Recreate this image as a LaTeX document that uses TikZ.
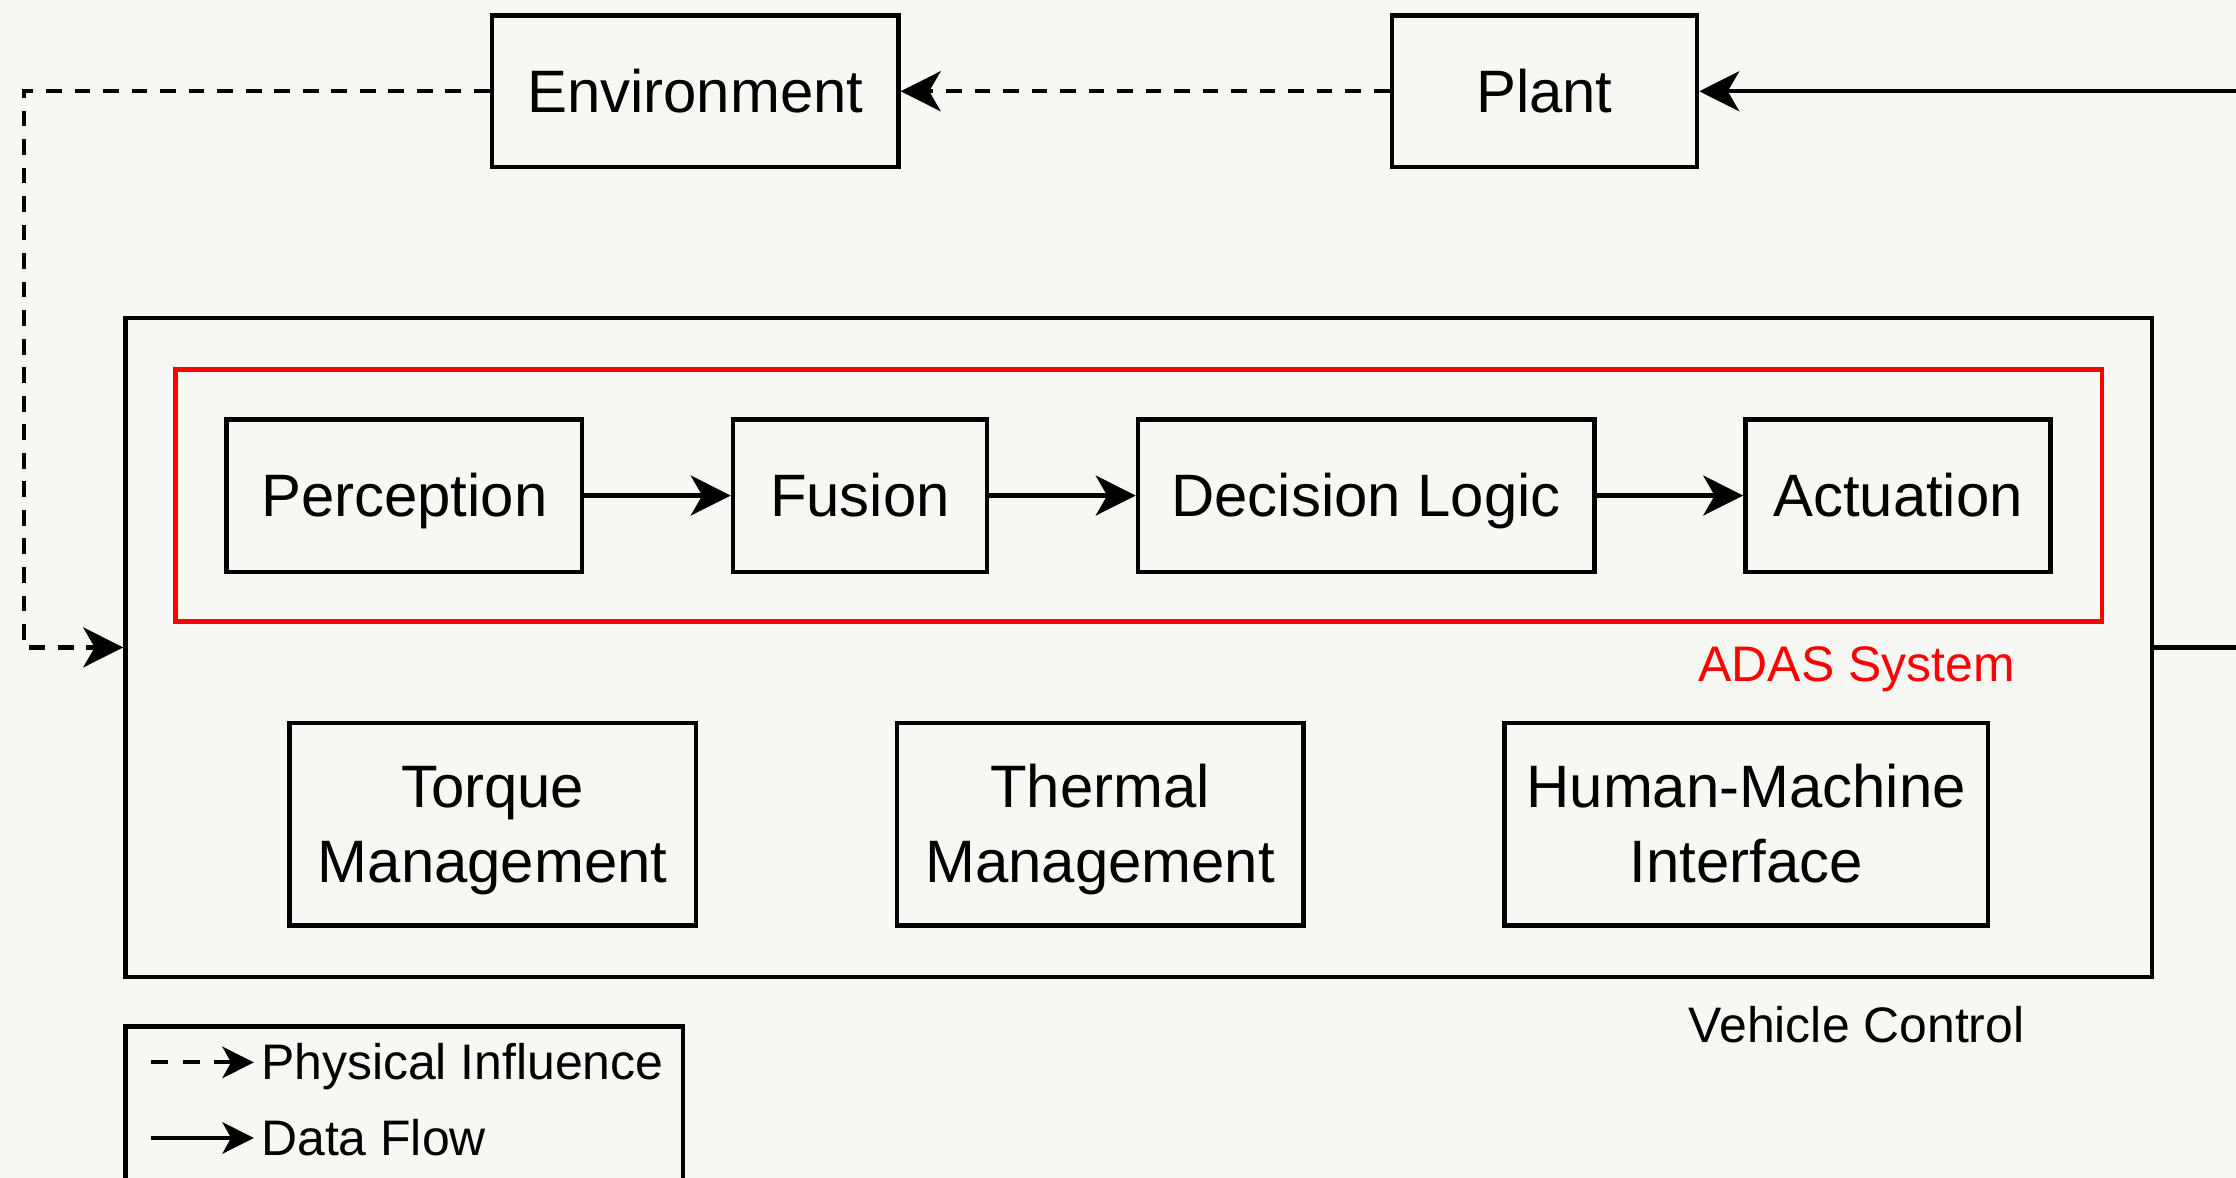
\documentclass[tikz,border=0pt]{standalone}
\usepackage{fontspec}
\setmainfont{Liberation Sans}
\usetikzlibrary{arrows.meta}
\definecolor{bg}{HTML}{F7F7F3}
\definecolor{adasred}{HTML}{FF0000}

\begin{document}
\begin{tikzpicture}[x=1pt,y=-1pt,
  box/.style={draw, line width=3.2pt, inner sep=0pt, align=center,
    font=\fontsize{42}{53}\selectfont, text height=30pt, text depth=0pt},
  box2/.style={box, text height=82pt, text depth=0pt},
  group/.style={draw, line width=3.2pt, inner sep=0pt},
  flow/.style={line width=3pt, -{Stealth[length=28pt,width=28pt,inset=8pt]}},
  phys/.style={flow, dash pattern=on 11pt off 9pt},
  keyflow/.style={line width=2.8pt, -{Stealth[length=22pt,width=22pt,inset=6pt]}},
  keyphys/.style={keyflow, dash pattern=on 12pt off 10pt},
  grouplabel/.style={anchor=base, inner sep=0pt, font=\fontsize{35}{42}\selectfont},
  keylabel/.style={anchor=base west, inner sep=0pt, font=\fontsize{35}{42}\selectfont}]

\fill[bg] (0,0) rectangle (1568,826);
\useasboundingbox (0,0) rectangle (1568,826);

% outer world
\node[box, minimum width=285pt, minimum height=106pt] (env) at (487.5,64) {Environment};
\node[box, minimum width=214pt, minimum height=106pt] (plant) at (1083,64) {Plant};

% vehicle control group and the ADAS subgroup
\node[group, minimum width=1421pt, minimum height=462pt] (vc) at (798.5,454) {};
\node[group, draw=adasred, minimum width=1351pt, minimum height=177pt] (adas) at (798.5,347.5) {};
\node[grouplabel] (vclabel) at (1302,731) {Vehicle Control};
\node[grouplabel, text=adasred] (adaslabel) at (1302,478) {ADAS System};

% ADAS pipeline
\node[box, minimum width=249pt, minimum height=107pt] (perc) at (283.5,347.5) {Perception};
\node[box, minimum width=178pt, minimum height=107pt] (fus) at (603,347.5) {Fusion};
\node[box, minimum width=320pt, minimum height=107pt] (dec) at (958,347.5) {Decision Logic};
\node[box, minimum width=214pt, minimum height=107pt] (act) at (1331,347.5) {Actuation};

% other vehicle functions
\node[box2, minimum width=285pt, minimum height=142pt] (torq) at (345.5,578) {Torque\\Management};
\node[box2, minimum width=285pt, minimum height=142pt] (therm) at (771.5,578) {Thermal\\Management};
\node[box2, minimum width=339pt, minimum height=142pt] (hmi) at (1224.5,578) {Human-Machine\\Interface};

% data flow inside ADAS
\draw[flow] (perc) -- (fus);
\draw[flow] (fus) -- (dec);
\draw[flow] (dec) -- (act);

% loop: vehicle control -> plant -> environment -> vehicle control
\coordinate (outR) at (1640,454);
\coordinate (outL) at (17,64);
\draw[flow] (vc.east) -- (outR) |- (plant.east);
\draw[phys] (plant.west) -- (env.east);
\draw[phys] (env.west) -- (outL) |- (vc.west);

% legend
\node[group, minimum width=391pt, minimum height=108pt] (key) at (283.5,774) {};
\coordinate (k1a) at (106,745);
\coordinate (k1b) at (178,745);
\coordinate (k2a) at (106,798);
\coordinate (k2b) at (178,798);
\draw[keyphys] (k1a) -- (k1b);
\draw[keyflow] (k2a) -- (k2b);
\node[keylabel] (k1t) at (183,757) {Physical Influence};
\node[keylabel] (k2t) at (183,810) {Data Flow};
\end{tikzpicture}
\end{document}
